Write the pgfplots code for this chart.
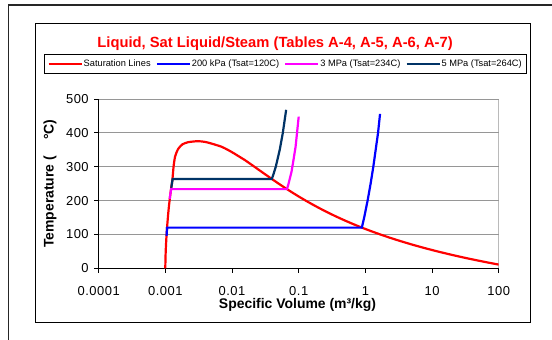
\documentclass[border=0pt]{standalone}
\usepackage{fontspec}
\setmainfont{Liberation Sans}
\newfontfamily\tickfont[LetterSpace=4]{Liberation Sans}
\usepackage{pgfplots}
\pgfplotsset{compat=1.18}
\definecolor{navy}{RGB}{0,51,102}
\definecolor{pinkm}{RGB}{255,0,255}
\definecolor{gridgray}{RGB}{150,150,150}
\begin{document}
\begin{tikzpicture}[x=1bp,y=1bp]
\useasboundingbox (-98.7,-70.7) rectangle (453.3,268.3);
\fill[white] (-98.7,-70.7) rectangle (453.3,268.3);
\draw[line width=1.2bp, black!85] (-90.2,-80) -- (-90.2,263.3) -- (470,263.3);
\draw[line width=0.9bp] (-63,-53.7) rectangle (431.3,244.8);
\begin{axis}[
  at={(0,0)}, anchor=south west,
  scale only axis, width=400bp, height=169.3bp,
  xmode=log, log basis x=10, xmin=1e-4, xmax=100, ymin=0, ymax=500,
  xminorticks=false,
  xtick={1e-4,1e-3,1e-2,1e-1,1,10,100},
  xticklabels={0.0001,0.001,0.01,0.1,1,10,100},
  ytick={0,100,200,300,400,500},
  yticklabels={0,100,200,300,400,500},
  axis lines*=left, axis line style={-, black, line width=0.8bp},
  ymajorgrids, grid style={gridgray, line width=0.8bp},
  tick align=outside, major tick length=4.5bp,
  tick style={black, line width=0.8bp},
  tick label style={font=\tickfont\fontsize{13}{15}\selectfont},
  xticklabel style={yshift=-10bp},
  yticklabel style={xshift=-2bp},
  /pgf/number format/assume math mode=true,
  xlabel={Specific Volume (m³/kg)},
  xlabel style={at={(axis description cs:0.497,-0.215)}, anchor=center, font=\bfseries\fontsize{14}{16}\selectfont},
  ylabel={Temperature (\hspace{16bp}°C)},
  ylabel style={at={(axis description cs:-0.122,0.5)}, anchor=center, font=\bfseries\fontsize{14}{16}\selectfont},
  title={Liquid, Sat Liquid/Steam (Tables A-4, A-5, A-6, A-7)},
  title style={at={(axis description cs:0.441,1.29)}, anchor=center, font=\bfseries\fontsize{14.8}{16}\selectfont, text=red},
  legend columns=4,
  legend cell align=left,
  legend image code/.code={\draw[#1] (0bp,0bp) -- (33bp,0bp);},
  legend style={at={(axis description cs:0.466,1.206)}, anchor=center, draw=black, line width=0.8bp,
     font=\fontsize{9.3}{10}\selectfont, inner xsep=3.5bp, inner ysep=4bp,
     nodes={inner xsep=1bp, inner ysep=1.5bp},
     /tikz/every even column/.append style={column sep=4bp}},
  clip=true,
]
\draw[gridgray, line width=0.8bp] (rel axis cs:1,0) -- (rel axis cs:1,1);
\addplot[red, line width=2.2bp, smooth, tension=0.4] coordinates {
(0.000995,0.01) (0.001000,10) (0.001002,20) (0.001004,30) (0.001008,40) (0.001012,50)
(0.001017,60) (0.001023,70) (0.001029,80) (0.001036,90) (0.001043,100) (0.001052,110)
(0.001060,120) (0.001070,130) (0.001080,140) (0.001091,150) (0.001102,160) (0.001114,170)
(0.001127,180) (0.001141,190) (0.001157,200) (0.001173,210) (0.001190,220) (0.001209,230)
(0.001229,240) (0.001252,250) (0.001276,262) (0.001300,280) (0.00133,302) (0.00140,330)
(0.00155,352) (0.00180,366) (0.0022,372.5) (0.0031,375.5) (0.0040,373) (0.0050,368)
(0.00695,359) (0.00881,349) (0.01080,339) (0.01280,330) (0.01549,320) (0.01834,310)
(0.02167,300) (0.02556,290) (0.03017,280) (0.03570,270) (0.04220,260) (0.05008,250)
(0.05970,240) (0.07150,230) (0.08609,220) (0.10429,210) (0.12721,200) (0.15636,190)
(0.19384,180) (0.24260,170) (0.30680,160) (0.39248,150) (0.50850,140) (0.66808,130)
(0.89133,120) (1.2094,110) (1.6720,100) (2.3593,90) (3.4053,80) (5.0402,70) (7.6670,60)
(12.026,50) (19.515,40) (32.879,30) (57.762,20) (106.32,10)
};
\addlegendentry{Saturation Lines}
\addplot[blue, line width=2.2bp] coordinates {
(0.001043,96) (0.001061,120.2) (0.8857,120.2) (0.9596,150) (1.0805,200) (1.1989,250)
(1.3162,300) (1.5493,400) (1.66,456)
};
\addlegendentry{200 kPa (Tsat=120C)}
\addplot[pinkm, line width=2.2bp] coordinates {
(0.00116,205) (0.00122,233.9) (0.0667,233.9) (0.0705,250) (0.078,285) (0.0826,314)
(0.0898,359) (0.1,448)
};
\addlegendentry{3 MPa (Tsat=234C)}
\addplot[navy, line width=2.2bp] coordinates {
(0.0012264,238) (0.0012863,263.9) (0.03944,263.9) (0.04141,275) (0.04532,300)
(0.05194,350) (0.05781,400) (0.0648,468)
};
\addlegendentry{5 MPa (Tsat=264C)}
\end{axis}
\end{tikzpicture}
\end{document}
